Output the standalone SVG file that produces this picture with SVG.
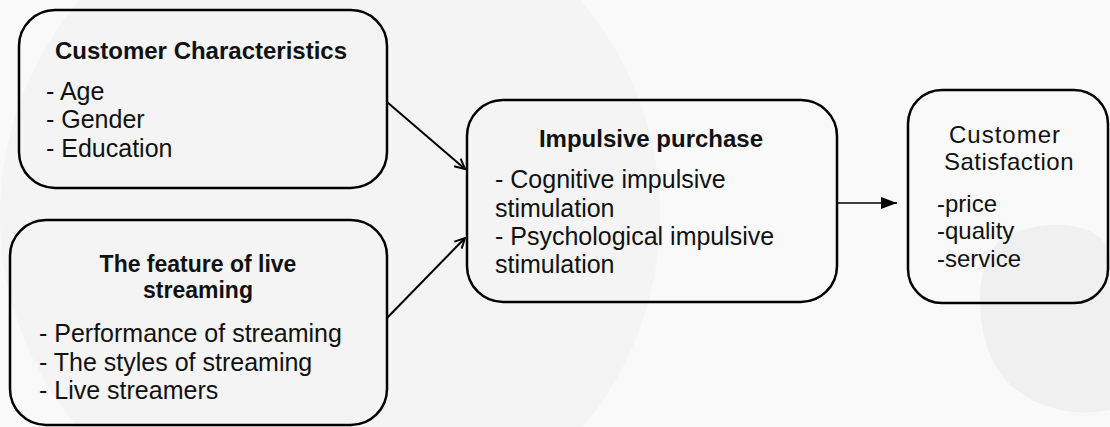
<svg xmlns="http://www.w3.org/2000/svg" width="1110" height="427" viewBox="0 0 1110 427">
<style>
.box{fill:none;stroke:#000;stroke-width:2.5}
.t{font-family:"Liberation Sans",Arial,sans-serif;font-size:25px;fill:#111}
.b{font-weight:bold;font-size:24px}
.b2{font-size:23px}
.c{text-anchor:middle}
.s{font-size:24px}
.con{stroke:#000;fill:none}
</style>
<defs>
<marker id="open" viewBox="0 0 12 12" refX="11" refY="6" markerWidth="12" markerHeight="12" markerUnits="userSpaceOnUse" orient="auto">
<path d="M1,1 L11,6 L1,11" fill="none" stroke="#000" stroke-width="2"/>
</marker>
<marker id="solid" viewBox="0 0 16 12" refX="16" refY="6" markerWidth="16" markerHeight="12" markerUnits="userSpaceOnUse" orient="auto">
<path d="M0,0 L16,6 L0,12 Z" fill="#000"/>
</marker>
</defs>
<g id="background">
<rect x="0" y="0" width="1110" height="427" fill="#f9f9f9"/>
<circle cx="330" cy="215" r="330" fill="#f4f4f4"/>
<path d="M1000,240 C1040,215 1110,220 1110,260 L1110,410 C1060,420 1000,400 985,340 C975,300 980,260 1000,240 Z" fill="#f0f0f0"/>
</g>
<g id="connectors">
<line class="con" x1="387" y1="102" x2="465" y2="169" stroke-width="2" marker-end="url(#open)"/>
<line class="con" x1="387" y1="318" x2="465" y2="238" stroke-width="2" marker-end="url(#open)"/>
<line class="con" x1="837" y1="203" x2="897" y2="203" stroke-width="1.5" marker-end="url(#solid)"/>
</g>
<g id="customer-characteristics">
<rect class="box" x="19" y="10" width="368" height="178" rx="36"/>
<text class="t b c" x="201" y="59">Customer Characteristics</text>
<text class="t" x="46" y="100">- Age</text>
<text class="t" x="46" y="128">- Gender</text>
<text class="t" x="46" y="157">- Education</text>
</g>
<g id="live-streaming">
<rect class="box" x="10" y="220" width="377" height="205" rx="36"/>
<text class="t b b2 c" x="198" y="272">The feature of live</text>
<text class="t b b2 c" x="198" y="298">streaming</text>
<text class="t" x="39" y="342">- Performance of streaming</text>
<text class="t" x="39" y="371">- The styles of streaming</text>
<text class="t" x="39" y="399">- Live streamers</text>
</g>
<g id="impulsive-purchase">
<rect class="box" x="467" y="100" width="370" height="202" rx="36"/>
<text class="t b c" x="651" y="147">Impulsive purchase</text>
<text class="t" x="495" y="188">- Cognitive impulsive</text>
<text class="t" x="495" y="217">stimulation</text>
<text class="t" x="495" y="245">- Psychological impulsive</text>
<text class="t" x="495" y="273">stimulation</text>
</g>
<g id="customer-satisfaction">
<rect class="box" x="908" y="90" width="200" height="213" rx="34"/>
<text class="t s c" x="1005" y="143" letter-spacing="1">Customer</text>
<text class="t s c" x="1009" y="170" letter-spacing="0.5">Satisfaction</text>
<text class="t s" x="937" y="212">-price</text>
<text class="t s" x="937" y="239">-quality</text>
<text class="t s" x="937" y="267">-service</text>
</g>
</svg>
